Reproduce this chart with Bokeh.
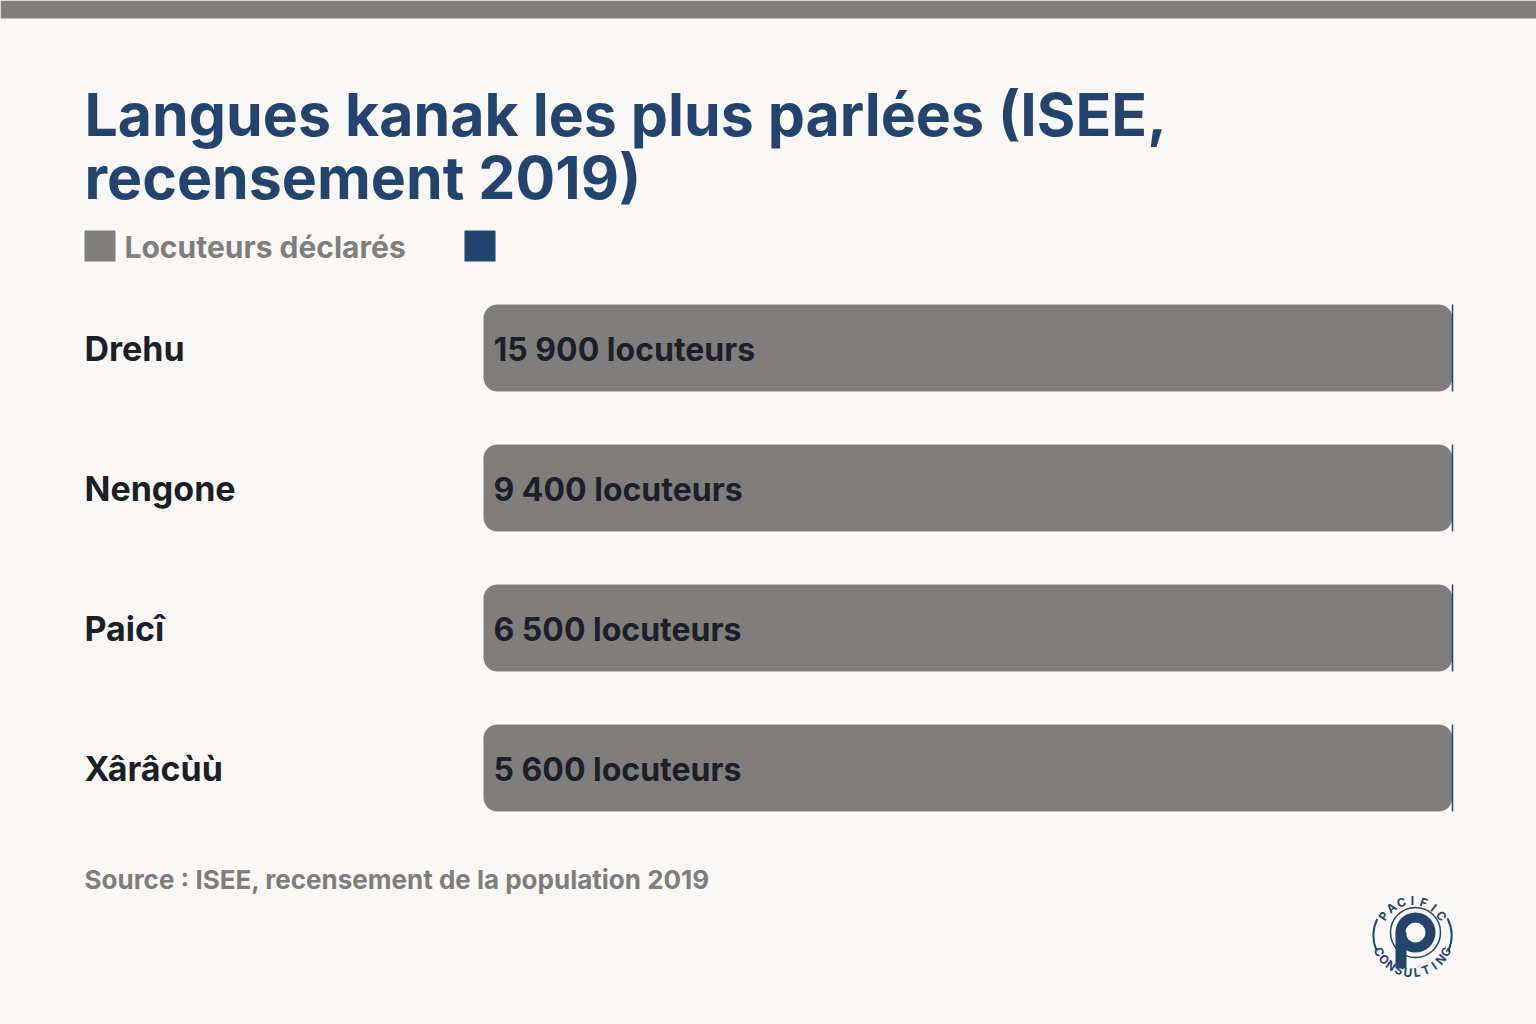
import math
from bokeh.plotting import figure
from bokeh.models import Range1d, ColumnDataSource
from bokeh.core.properties import value
from bokeh.embed import file_html
from bokeh.resources import INLINE

# ---------------- data ----------------
categories = ["Drehu", "Nengone", "Paicî", "Xârâcùù"]
locuteurs = [15900, 9400, 6500, 5600]
autre = [0, 0, 0, 0]  # second (unlabelled, navy) series
series_names = ["Locuteurs déclarés", ""]
title_lines = ["Langues kanak les plus parlées (ISEE,", "recensement 2019)"]
source_text = "Source : ISEE, recensement de la population 2019"
logo_top = "PACIFIC"
logo_bottom = "CONSULTING"

# ---------------- style ----------------
W, H = 1536, 1024
BG = "#F9F8F6"
GRAY = "#7F7E7C"
NAVY = "#23446F"
INK = "#1C1F27"
FONT = value("Inter")

BAR_X0, BAR_W = 483, 969          # pixel position of share 0 and length of share 1
ROW_Y0, ROW_STEP = 347.5, 140     # pixel centre of first row and row step


def dx(px):
    return (px - BAR_X0) / BAR_W


def dy(py):
    return (py - ROW_Y0) / ROW_STEP


p = figure(width=W, height=H,
           x_range=Range1d(dx(0), dx(W)), y_range=Range1d(dy(H), dy(0)),
           output_backend="svg", toolbar_location=None,
           x_axis_location=None, y_axis_location=None,
           min_border=0, background_fill_color=BG, border_fill_color=BG,
           outline_line_color=None)
p.grid.visible = False

# top band
p.quad(left=[dx(0)], right=[dx(W)], top=[dy(0)], bottom=[dy(18)],
       fill_color=GRAY, line_color=None)

# ---------------- bars ----------------
totals = [a + b for a, b in zip(locuteurs, autre)]
share_main = [a / t for a, t in zip(locuteurs, totals)]
share_end = [(a + b) / t for a, b, t in zip(locuteurs, autre, totals)]
labels = [f"{v:,}".replace(",", " ") + " locuteurs" for v in locuteurs]
src = ColumnDataSource(dict(y=list(range(len(categories))), cat=categories,
                            main=share_main, end=share_end, label=labels))

bar_h = 87 / ROW_STEP
p.hbar(y="y", left=0, right="main", height=bar_h, source=src,
       fill_color=GRAY, line_color=None, border_radius=14)
p.hbar(y="y", left="main", right="end", height=bar_h, source=src,
       fill_color=NAVY, line_color=NAVY, line_width=1.5)

p.text(x=dx(84), y="y", text="cat", source=src, text_font=FONT,
       text_font_style="bold", text_font_size="34px", text_color=INK,
       text_baseline="alphabetic", text_align="left", y_offset=0)
p.text(x=dx(493), y="y", text="label", source=src, text_font=FONT,
       text_font_style="bold", text_font_size="32px", text_color=INK,
       text_baseline="alphabetic", text_align="left", y_offset=1)

# ---------------- title ----------------
p.text(x=[dx(84), dx(84)], y=[dy(113.5), dy(176.5)], text=title_lines,
       text_font=FONT, text_font_style="bold", text_font_size="59px",
       text_color=NAVY, text_baseline="alphabetic", text_align="left")

# ---------------- legend ----------------
p.quad(left=[dx(84), dx(464)], right=[dx(115), dx(495)],
       top=[dy(230), dy(230)], bottom=[dy(261), dy(261)],
       fill_color=[GRAY, NAVY], line_color=None)
p.text(x=[dx(124)], y=[dy(246)], text=[series_names[0]], text_font=FONT,
       text_font_style="bold", text_font_size="30px", text_color=GRAY,
       text_baseline="alphabetic", text_align="left")

# ---------------- source ----------------
p.text(x=[dx(84)], y=[dy(878.5)], text=[source_text], text_font=FONT,
       text_font_style="bold", text_font_size="26px", text_color=GRAY,
       text_baseline="alphabetic", text_align="left")

# ---------------- logo ----------------
cx, cy = 1412, 935
p.arc(x=[dx(cx), dx(cx)], y=[dy(cy), dy(cy)], radius=39, radius_units="screen",
      start_angle=[math.radians(-24), math.radians(155)],
      end_angle=[math.radians(26), math.radians(203)],
      line_color=NAVY, line_width=2)
pcx, pcy = 1415, 932
p.scatter(x=[dx(pcx)], y=[dy(pcy)], size=50, marker="circle",
          fill_color=None, line_color=NAVY, line_width=1.5)
p.annulus(x=[dx(pcx)], y=[dy(pcy)], inner_radius=10, outer_radius=20,
          inner_radius_units="screen", outer_radius_units="screen",
          fill_color=NAVY, line_color=None)
p.quad(left=[dx(pcx - 20)], right=[dx(pcx - 9)], top=[dy(pcy)], bottom=[dy(pcy + 36)],
       fill_color=NAVY, line_color=None)

xs, ys, angs, chars = [], [], [], []
n = len(logo_top)
for i, ch in enumerate(logo_top):
    phi = math.radians(146 - i * (112 / (n - 1)))
    xs.append(dx(cx + 35 * math.cos(phi)))
    ys.append(dy(cy - 35 * math.sin(phi)))
    angs.append(phi - math.pi / 2)
    chars.append(ch)
n = len(logo_bottom)
for i, ch in enumerate(logo_bottom):
    phi = math.radians(206 + i * (128 / (n - 1)))
    xs.append(dx(cx + 37 * math.cos(phi)))
    ys.append(dy(cy - 37 * math.sin(phi)))
    angs.append(phi + math.pi / 2)
    chars.append(ch)
p.text(x=xs, y=ys, text=chars, angle=angs, text_font=FONT, text_font_style="bold",
       text_font_size="12px", text_color=NAVY, text_align="center",
       text_baseline="alphabetic")

open("out.html", "w").write(file_html(p, INLINE))
